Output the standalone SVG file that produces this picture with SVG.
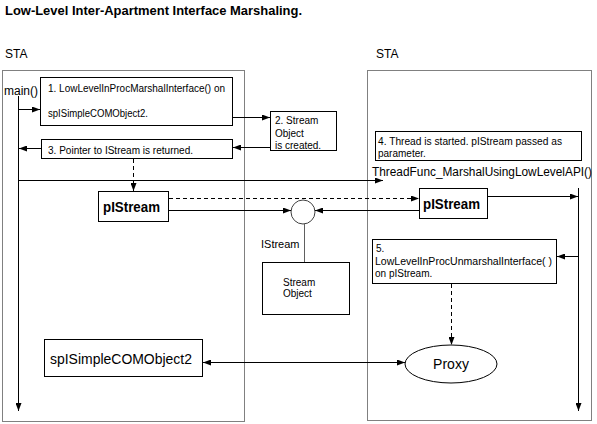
<svg xmlns="http://www.w3.org/2000/svg" width="597" height="424" viewBox="0 0 597 424">
<style>
text{font-family:"Liberation Sans",Arial,sans-serif;fill:#000}
.t10{font-size:10px}
.t12{font-size:12px}
.b14{font-size:14px;font-weight:bold}
.apt{fill:none;stroke:#808080;stroke-width:1}
.box{fill:#fff;stroke:#000;stroke-width:1}
.ln{fill:none;stroke:#000;stroke-width:1}
.dash{stroke-dasharray:4,3}
</style>
<defs>
<marker id="ah" viewBox="0 0 8 6" refX="8" refY="3" markerWidth="8" markerHeight="6" markerUnits="userSpaceOnUse" orient="auto">
<path d="M0,0 L8,3 L0,6 Z" fill="#000"/>
</marker>
<marker id="as" viewBox="0 0 8 6" refX="0" refY="3" markerWidth="8" markerHeight="6" markerUnits="userSpaceOnUse" orient="auto">
<path d="M8,0 L0,3 L8,6 Z" fill="#000"/>
</marker>
</defs>
<rect width="597" height="424" fill="#fff"/>
<text x="5" y="15" font-size="12" font-weight="bold" textLength="297" lengthAdjust="spacingAndGlyphs">Low-Level Inter-Apartment Interface Marshaling.</text>
<g id="sta-left">
<text x="5" y="58" class="t12">STA</text>
<rect x="2.5" y="70.5" width="242" height="351" class="apt"/>
</g>
<g id="sta-right">
<text x="376" y="58" class="t12">STA</text>
<rect x="367.5" y="70.5" width="224" height="350" class="apt"/>
</g>
<g id="main-label"><text x="4" y="95" class="t12">main()</text></g>
<g id="thread-label"><text x="372" y="176" class="t12" textLength="220" lengthAdjust="spacingAndGlyphs">ThreadFunc_MarshalUsingLowLevelAPI()</text></g>
<g id="step1">
<rect x="40.5" y="77.5" width="192" height="48" class="box"/>
<text x="48" y="92" class="t10" textLength="177" lengthAdjust="spacingAndGlyphs">1. LowLevelInProcMarshalInterface() on</text>
<text x="48" y="117" class="t10" textLength="100" lengthAdjust="spacingAndGlyphs">spISimpleCOMObject2.</text>
</g>
<g id="step2">
<rect x="270.5" y="111.5" width="66" height="39" class="box"/>
<text x="275" y="124" class="t10">2. Stream</text>
<text x="275" y="137" class="t10">Object</text>
<text x="275" y="149" class="t10">is created.</text>
</g>
<g id="step3">
<rect x="41.5" y="139.5" width="191" height="19" class="box"/>
<text x="48" y="154" class="t10" textLength="145" lengthAdjust="spacingAndGlyphs">3. Pointer to IStream is returned.</text>
</g>
<g id="step4">
<rect x="375.5" y="131.5" width="206" height="29" class="box"/>
<text x="378" y="145" class="t10" textLength="184" lengthAdjust="spacingAndGlyphs">4. Thread is started. pIStream passed as</text>
<text x="378" y="157" class="t10">parameter.</text>
</g>
<g id="pistream-left">
<rect x="98.5" y="191.5" width="70" height="30" class="box"/>
<text x="103" y="212" class="b14" textLength="57" lengthAdjust="spacingAndGlyphs">pIStream</text>
</g>
<g id="pistream-right">
<rect x="419.5" y="188.5" width="68" height="30" class="box"/>
<text x="423" y="209" class="b14" textLength="57" lengthAdjust="spacingAndGlyphs">pIStream</text>
</g>
<g id="istream-iface">
<circle cx="303" cy="212" r="12" fill="#fff" stroke="#404040"/>
<text x="261" y="248" font-size="11">IStream</text>
</g>
<g id="stream-object">
<rect x="262.5" y="262.5" width="87" height="52" class="box"/>
<text x="283" y="286" class="t10">Stream</text>
<text x="283" y="297" class="t10">Object</text>
</g>
<g id="step5">
<rect x="372.5" y="239.5" width="184" height="44" class="box"/>
<text x="376" y="252" class="t10">5.</text>
<text x="375" y="265" class="t10" textLength="177" lengthAdjust="spacingAndGlyphs">LowLevelInProcUnmarshalInterface( )</text>
<text x="375" y="277" class="t10">on pIStream.</text>
</g>
<g id="proxy">
<ellipse cx="451" cy="364" rx="46" ry="19" fill="#fff" stroke="#000"/>
<text x="451" y="369" font-size="14" text-anchor="middle">Proxy</text>
</g>
<g id="spISimpleCOMObject2">
<rect x="44.5" y="339.5" width="158" height="37" class="box"/>
<text x="50" y="364" font-size="14" textLength="142" lengthAdjust="spacingAndGlyphs">spISimpleCOMObject2</text>
</g>
<g id="connectors">
<line x1="18.5" y1="96" x2="18.5" y2="411" class="ln" marker-end="url(#ah)"/>
<line x1="18.5" y1="109.5" x2="40" y2="109.5" class="ln" marker-end="url(#ah)"/>
<line x1="233" y1="117.5" x2="270" y2="117.5" class="ln" marker-end="url(#ah)"/>
<line x1="270" y1="147.5" x2="233" y2="147.5" class="ln" marker-end="url(#ah)"/>
<line x1="41" y1="148.5" x2="19" y2="148.5" class="ln" marker-end="url(#ah)"/>
<line x1="133.5" y1="159" x2="133.5" y2="191" class="ln dash" marker-end="url(#ah)"/>
<line x1="18.5" y1="180.5" x2="383" y2="180.5" class="ln" marker-end="url(#ah)"/>
<line x1="169" y1="198.5" x2="419" y2="198.5" class="ln dash" marker-end="url(#ah)"/>
<line x1="169" y1="210.5" x2="291" y2="210.5" class="ln" marker-end="url(#ah)"/>
<line x1="419" y1="210.5" x2="315" y2="210.5" class="ln" marker-end="url(#ah)"/>
<line x1="488" y1="196.5" x2="578" y2="196.5" class="ln" marker-end="url(#ah)"/>
<line x1="578.5" y1="188" x2="578.5" y2="411" class="ln" marker-end="url(#ah)"/>
<line x1="578.5" y1="256.5" x2="557" y2="256.5" class="ln" marker-end="url(#ah)"/>
<line x1="451.5" y1="284" x2="451.5" y2="345" class="ln dash" marker-end="url(#ah)"/>
<line x1="203" y1="362.5" x2="405" y2="362.5" class="ln" marker-start="url(#as)" marker-end="url(#ah)"/>
<line x1="304.5" y1="224" x2="304.5" y2="262" stroke="#606060" stroke-width="1"/>
</g>
</svg>
